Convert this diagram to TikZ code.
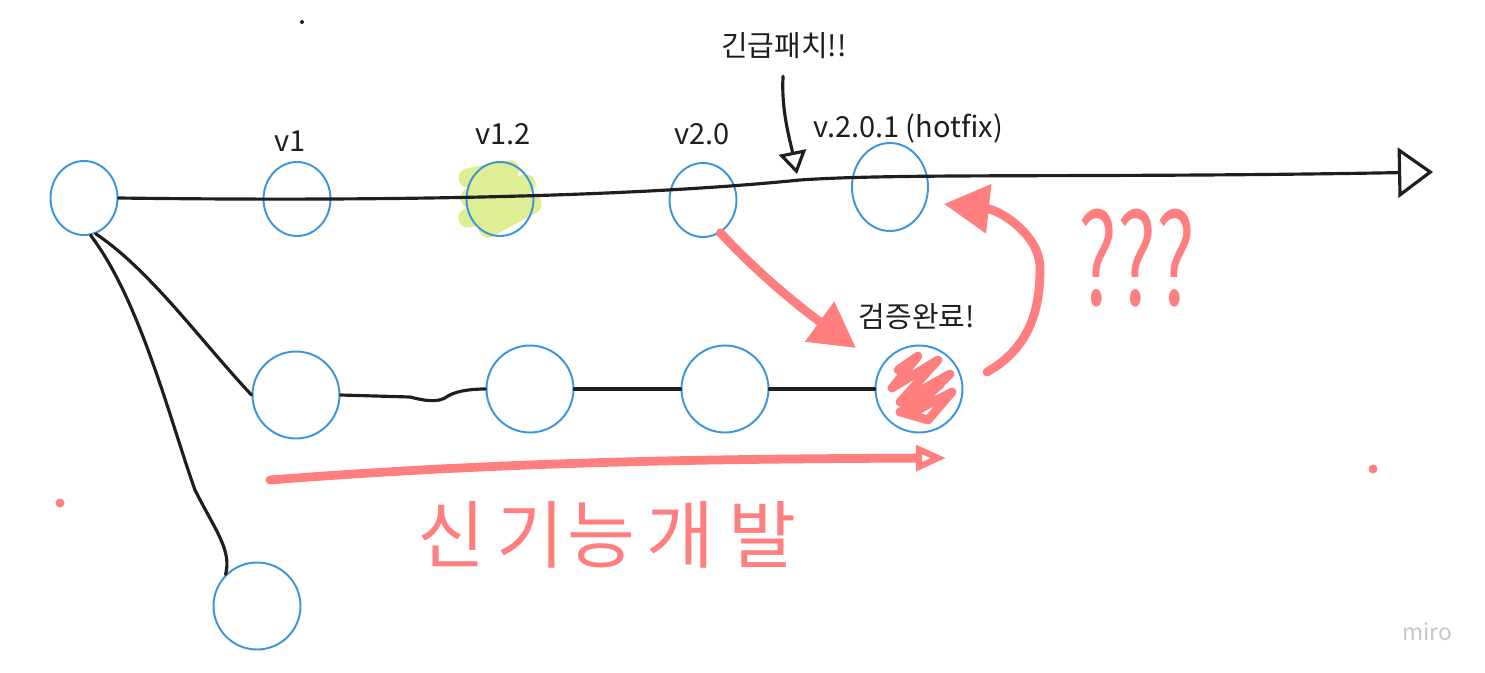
\documentclass[tikz,border=0pt]{standalone}
\usepackage{fontspec}
\setmainfont{Noto Sans CJK KR}
\usepackage{tikz}
\usetikzlibrary{arrows.meta,shapes.geometric}
\definecolor{nodeblue}{HTML}{3A95DD}
\definecolor{penred}{HTML}{FF7E7E}
\definecolor{marker}{HTML}{DDEE94}
\definecolor{inkgray}{HTML}{1E1E1E}

\begin{document}
\begin{tikzpicture}[
    x=0.02cm, y=-0.02cm,
    font=\fontsize{16.5pt}{19pt}\selectfont,
    commit/.style={draw=nodeblue, line width=1.1pt, ellipse, inner sep=0pt,
      minimum width=1.34cm, minimum height=1.48cm},
    big/.style={commit, minimum width=1.74cm, minimum height=1.74cm},
    ink/.style={draw=inkgray, line width=1.8pt, line cap=round},
    pen/.style={draw=penred, line width=5pt, line cap=round, line join=round},
    tag/.style={text=inkgray, inner sep=1pt},
    scrawl/.style={text=penred, inner sep=0pt},
  ]
  \useasboundingbox (0,0) rectangle (1485,673);

  % highlighter under v1.2
  \draw[marker, line width=11pt, line cap=round, line join=round]
    (468,178) -- (510,170) -- (470,198) -- (526,184) -- (468,218) -- (532,204) -- (488,228);

  % commits
  \node[commit] (root) at (84,198) {};
  \node[commit] (v1) at (297,199) {};
  \node[commit] (v12) at (500,199) {};
  \node[commit] (v20) at (703,200) {};
  \node[commit, minimum width=1.52cm, minimum height=1.76cm] (hotfix) at (890,187) {};

  \node[big] (f1) at (296,395) {};
  \node[big] (f2) at (530,389) {};
  \node[big] (f3) at (725,389) {};
  \node[big] (f4) at (919,389) {};
  \node[big] (old) at (257,606) {};

  % scribble on the checked commit
  \draw[pen, line width=5pt]
    (898,370) -- (918,356) -- (892,388) -- (938,360) -- (900,402)
    -- (950,374) -- (910,414) -- (952,392) -- (928,420) -- (900,412)
    -- (940,385) -- (915,395);

  % labels
  \node[tag] (lv1) at (290,141) {v1};
  \node[tag] (lv12) at (503,134) {v1.2};
  \node[tag] (lv20) at (702,134) {v2.0};
  \node[tag] (lhot) at (908,128) {v.2.0.1 (hotfix)};
  \node[tag] (patch) at (784,46) {긴급패치!!};
  \node[tag] (done) at (917,317) {검증완료!};

  % main line
  \coordinate (tip) at (1433,172);
  \draw[ink, -{Triangle[open, length=0.7cm, width=1.0cm, line width=1.8pt]}]
    (root.east) .. controls (500,203) and (700,190) .. (800,180)
    .. controls (900,173) and (1100,178) .. (tip);

  % branches
  \draw[ink] (root.-72) .. controls (150,270) and (200,340) .. (f1.west);
  \draw[ink] (root.-80) .. controls (140,300) and (170,420) .. (195,490)
    .. controls (215,530) and (232,550) .. (old.135);
  \draw[ink] (f1.east) -- (410,397) .. controls (422,400) and (438,404) .. (448,396)
    .. controls (458,390) and (475,389) .. (f2.west);
  \draw[ink] (f2.east) -- (f3.west);
  \draw[ink] (f3.east) -- (f4.west);

  % hotfix pointer
  \coordinate (hit) at (797,174);
  \draw[ink, shorten <=0.3cm, -{Triangle[open, length=0.45cm, width=0.55cm, line width=1.8pt]}]
    (patch.south) .. controls (781,110) and (790,140) .. (hit);

  % red arrows
  \coordinate (chk) at (856,348);
  \draw[pen, -{Triangle[length=0.9cm, width=0.95cm]}]
    (v20.-62) .. controls (750,265) and (790,300) .. (chk);
  \coordinate (back) at (944,204);
  \draw[pen, -{Triangle[length=0.9cm, width=0.95cm]}]
    (987,372) .. controls (1035,345) and (1040,300) .. (1040,268)
    .. controls (1040,235) and (1000,210) .. (back);
  \coordinate (fs) at (270,480);
  \coordinate (fe) at (946,458);
  \draw[pen, -{Triangle[open, length=0.6cm, width=0.5cm, line width=3.5pt]}]
    (fs) .. controls (500,462) and (700,459) .. (fe);

  % handwriting
  \node[scrawl, font=\fontsize{42pt}{46pt}\selectfont] (dev) at (607,535)
    {신\hspace{6pt}기\hspace{2pt}능\hspace{6pt}개\hspace{8pt}발};
  \node[scrawl, font=\fontsize{72pt}{76pt}\selectfont] (ask) at (1137,258)
    {\scalebox{0.65}[1]{???}};

  % stray dots
  \fill[inkgray] (302,22) circle (2);
  \fill[penred] (60,503) circle (4.5);
  \fill[penred] (1373,469) circle (4.5);

  % watermark
  \node[text=gray!45, font=\fontsize{13pt}{15pt}\selectfont] (miro) at (1427,632) {miro};
\end{tikzpicture}
\end{document}
